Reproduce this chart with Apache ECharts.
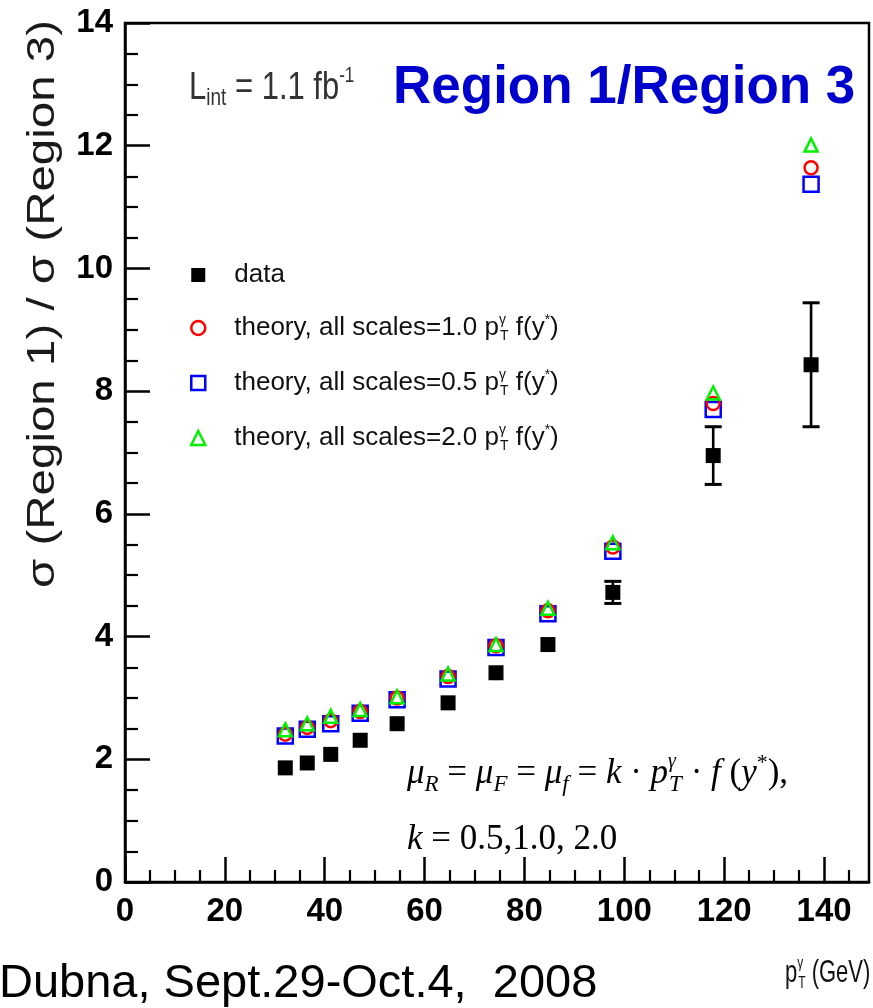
<!DOCTYPE html>
<html>
<head>
<meta charset="utf-8">
<script src="https://cdn.jsdelivr.net/npm/echarts@6/dist/echarts.min.js"></script>
<style>
html,body{margin:0;padding:0;background:#fff;}
#c{width:873px;height:1008px;}
</style>
</head>
<body>
<div id="c"></div>
<script>
// ---- data ----
const ptBins     = [32.1, 36.5, 41.2, 47.1, 54.5, 64.7, 74.3, 84.7, 97.7, 117.8, 137.4];
const dataRatio  = [1.86, 1.94, 2.08, 2.31, 2.58, 2.92, 3.41, 3.87, 4.72, 6.95, 8.43];
const dataErr    = [0.05, 0.05, 0.06, 0.06, 0.07, 0.08, 0.09, 0.10, 0.18, 0.47, 1.01];
const theoryK10  = [2.41, 2.52, 2.63, 2.78, 3.00, 3.35, 3.85, 4.42, 5.46, 7.80, 11.64];
const theoryK05  = [2.38, 2.49, 2.58, 2.75, 2.97, 3.31, 3.82, 4.37, 5.39, 7.70, 11.37];
const theoryK20  = [2.48, 2.58, 2.70, 2.81, 3.02, 3.39, 3.87, 4.46, 5.53, 7.97, 12.01];

const xMajorTicks = [0, 20, 40, 60, 80, 100, 120, 140];
const xMinorTicks = [5, 10, 15, 25, 30, 35, 45, 50, 55, 65, 70, 75, 85, 90, 95, 105, 110, 115, 125, 130, 135, 145];
const yMajorTicks = [0, 2, 4, 6, 8, 10, 12, 14];

// ---- font detection for the condensed tick labels ----
function hasFont(name) {
  const c = document.createElement('canvas').getContext('2d');
  const s = '1234567890 Region wmi';
  c.font = '40px monospace';
  const w0 = c.measureText(s).width;
  c.font = '40px "' + name + '", monospace';
  const w1 = c.measureText(s).width;
  return Math.abs(w0 - w1) > 0.5;
}
const narrow = hasFont('Liberation Sans Narrow');
const tickFamily = narrow ? '"Liberation Sans Narrow"' : '"Liberation Sans", Arial';
const tickSize = narrow ? 40 : 33;

const SANS = '"Liberation Sans", Arial, sans-serif';
const SERIF = '"Liberation Serif", "Times New Roman", serif';

const legendLabels = {
  data: '{sp|}{t|data}',
  k10: '{sp|}{t|theory, all scales=1.0 p}{gz|γ}{sb|T}{t| f(y}{st|*}{t|)}',
  k05: '{sp|}{t|theory, all scales=0.5 p}{gz|γ}{sb|T}{t| f(y}{st|*}{t|)}',
  k20: '{sp|}{t|theory, all scales=2.0 p}{gz|γ}{sb|T}{t| f(y}{st|*}{t|)}'
};

const chart = echarts.init(document.getElementById('c'), null, {renderer: 'canvas'});

const axisLineStyle = {color: '#000', width: 2.5};
const MARKER_HALF = 8;
const GREEN = '#00f000';

const option = {
  animation: false,
  backgroundColor: '#fff',
  textStyle: {fontFamily: SANS},
  grid: {left: 125, right: 4, top: 23, bottom: 126, show: true, borderColor: '#000', borderWidth: 2.5, backgroundColor: 'rgba(0,0,0,0)'},
  xAxis: [
    {
      type: 'value', min: 0, max: 149, position: 'bottom',
      axisLine: {show: true, onZero: false, lineStyle: axisLineStyle},
      axisTick: {show: true, inside: true, length: 25, customValues: xMajorTicks, lineStyle: {color: '#000', width: 2.5}},
      axisLabel: {customValues: xMajorTicks, margin: 13, fontSize: tickSize, fontWeight: 'bold', fontFamily: tickFamily, color: '#000'},
      splitLine: {show: false}
    },
    {
      type: 'value', min: 0, max: 149, position: 'bottom',
      axisLine: {show: false, onZero: false},
      axisTick: {show: true, inside: true, length: 12, customValues: xMinorTicks, lineStyle: {color: '#000', width: 2.2}},
      axisLabel: {show: false},
      splitLine: {show: false}
    }
  ],
  yAxis: {
    type: 'value', min: 0, max: 14, interval: 2,
    axisLine: {show: true, onZero: false, lineStyle: axisLineStyle},
    axisTick: {show: true, inside: true, length: 25, lineStyle: {color: '#000', width: 2.5}},
    minorTick: {show: true, splitNumber: 4, length: 13, lineStyle: {color: '#000', width: 2.2}},
    axisLabel: {margin: 12, fontSize: tickSize, fontWeight: 'bold', fontFamily: tickFamily, color: '#000',
      customValues: yMajorTicks},
    splitLine: {show: false},
    minorSplitLine: {show: false}
  },
  legend: {
    orient: 'vertical', left: 190, top: 262, padding: 0, itemGap: 25,
    itemWidth: 14, itemHeight: 14, selectedMode: false,
    data: [
      {name: 'data', icon: 'rect', itemStyle: {color: '#000', borderWidth: 0, opacity: 1}},
      {name: 'k10', icon: 'circle', itemStyle: {color: 'rgba(0,0,0,0)', borderColor: '#ff0000', borderWidth: 2.5, opacity: 1}},
      {name: 'k05', icon: 'rect', itemStyle: {color: 'rgba(0,0,0,0)', borderColor: '#0000ff', borderWidth: 2.5, opacity: 1}},
      {name: 'k20', icon: 'triangle', itemStyle: {color: 'rgba(0,0,0,0)', borderColor: GREEN, borderWidth: 2.5, opacity: 1}}
    ],
    formatter: function (name) { return legendLabels[name]; },
    textStyle: {
      color: '#111', fontFamily: SANS, fontSize: 26,
      rich: {
        sp: {width: 24, fontSize: 26, lineHeight: 30},
        t: {fontSize: 26, fontFamily: SANS, color: '#111', lineHeight: 30},
        gz: {fontSize: 14, fontFamily: SANS, color: '#111', lineHeight: 14, verticalAlign: 'top', width: 1},
        sb: {fontSize: 14, fontFamily: SANS, color: '#111', lineHeight: 14, verticalAlign: 'bottom'},
        st: {fontSize: 14, fontFamily: SANS, color: '#111', lineHeight: 14, verticalAlign: 'top'}
      }
    }
  },
  graphic: [
    {type: 'text', x: 44, y: 304, rotation: Math.PI / 2, scaleX: 1.25, z: 10,
      style: {text: 'σ (Region 1) / σ (Region 3)', fontSize: 38, fontFamily: SANS, fill: '#1a1a1a',
        align: 'center', verticalAlign: 'middle', textAlign: 'center', textVerticalAlign: 'middle'}},
    {type: 'text', x: 393, y: 88, z: 10,
      style: {text: 'Region 1/Region 3', fontSize: 53, fontWeight: 'bold', fontFamily: SANS, fill: '#0000cc',
        align: 'left', verticalAlign: 'middle', textAlign: 'left', textVerticalAlign: 'middle'}},
    {type: 'text', x: 189, y: 88, scaleY: 1.25, z: 10,
      style: {text: '{a|L}{sb|int}{a| = 1.1 fb}{sp|-1}', fill: '#333', align: 'left', verticalAlign: 'middle',
        textAlign: 'left', textVerticalAlign: 'middle',
        rich: {
          a: {fontSize: 31, fontFamily: SANS, fill: '#333', lineHeight: 36},
          sb: {fontSize: 19, fontFamily: SANS, fill: '#333', lineHeight: 20, verticalAlign: 'bottom'},
          sp: {fontSize: 17, fontFamily: SANS, fill: '#333', lineHeight: 18, verticalAlign: 'top'}
        }}},
    {type: 'text', x: 407, y: 774, z: 10,
      style: {text: '{m|μ}{s|R}{r| = }{m|μ}{s|F}{r| = }{m|μ}{s|f}{r| = }{m|k}{r| · }{m|p}{gz|γ}{s|T}{r| · }{m|f}{r| (}{m|y}{st|*}{r|),}',
        align: 'left', verticalAlign: 'middle', textAlign: 'left', textVerticalAlign: 'middle',
        rich: {
          m: {fontSize: 35, fontFamily: SERIF, fontStyle: 'italic', fill: '#000', lineHeight: 44},
          r: {fontSize: 35, fontFamily: SERIF, fill: '#000', lineHeight: 44},
          s: {fontSize: 23, fontFamily: SERIF, fontStyle: 'italic', fill: '#000', lineHeight: 26, verticalAlign: 'bottom'},
          gz: {fontSize: 20, fontFamily: SERIF, fontStyle: 'italic', fill: '#000', lineHeight: 34, verticalAlign: 'top', width: 1},
          st: {fontSize: 22, fontFamily: SERIF, fill: '#000', lineHeight: 18, verticalAlign: 'top'}
        }}},
    {type: 'text', x: 407, y: 840, z: 10,
      style: {text: '{m|k}{r| = 0.5,1.0, 2.0}', align: 'left', verticalAlign: 'middle',
        textAlign: 'left', textVerticalAlign: 'middle',
        rich: {
          m: {fontSize: 35, fontFamily: SERIF, fontStyle: 'italic', fill: '#000', lineHeight: 44},
          r: {fontSize: 35, fontFamily: SERIF, fill: '#000', lineHeight: 44}
        }}},
    {type: 'text', x: 785, y: 973, scaleY: 1.45, z: 10,
      style: {text: '{a|p}{gz|γ}{sb|T}{a| (GeV)}', align: 'left', verticalAlign: 'middle',
        textAlign: 'left', textVerticalAlign: 'middle',
        rich: {
          a: {fontSize: 22, fontFamily: SANS, fill: '#111', lineHeight: 26},
          gz: {fontSize: 12, fontFamily: SANS, fill: '#111', lineHeight: 12, verticalAlign: 'top', width: 1},
          sb: {fontSize: 12, fontFamily: SANS, fill: '#111', lineHeight: 12, verticalAlign: 'bottom'}
        }}},
    {type: 'text', x: -1, y: 984, z: 10,
      style: {text: 'Dubna, Sept.29-Oct.4,  2008', fontSize: 47, fontFamily: SANS, fill: '#000',
        align: 'left', verticalAlign: 'middle', textAlign: 'left', textVerticalAlign: 'middle'}}
  ],
  series: [
    {
      type: 'custom', name: 'dataErr', xAxisIndex: 0, yAxisIndex: 0, z: 4, silent: true,
      data: ptBins.map((x, i) => [x, dataRatio[i] - dataErr[i], dataRatio[i] + dataErr[i]]),
      encode: {x: 0, y: [1, 2]},
      renderItem: function (params, api) {
        const x = api.value(0);
        const lo = api.coord([x, api.value(1)]);
        const hi = api.coord([x, api.value(2)]);
        const hw = 8.5;
        // like ROOT: an error bar hidden inside the marker is not drawn
        if ((lo[1] - hi[1]) / 2 <= MARKER_HALF) {
          return {type: 'group', children: []};
        }
        return {
          type: 'group',
          children: [
            {type: 'line', shape: {x1: lo[0], y1: lo[1], x2: hi[0], y2: hi[1]}, style: {stroke: '#000', lineWidth: 2.6}},
            {type: 'line', shape: {x1: lo[0] - hw, y1: lo[1], x2: lo[0] + hw, y2: lo[1]}, style: {stroke: '#000', lineWidth: 3}},
            {type: 'line', shape: {x1: hi[0] - hw, y1: hi[1], x2: hi[0] + hw, y2: hi[1]}, style: {stroke: '#000', lineWidth: 3}}
          ]
        };
      }
    },
    {
      type: 'scatter', name: 'k05', xAxisIndex: 0, z: 3, silent: true,
      data: ptBins.map((x, i) => [x, theoryK05[i]]),
      symbol: 'rect', symbolSize: 15,
      itemStyle: {color: 'rgba(0,0,0,0)', borderColor: '#0000ff', borderWidth: 2.5, opacity: 1}
    },
    {
      type: 'scatter', name: 'k10', xAxisIndex: 0, z: 4, silent: true,
      data: ptBins.map((x, i) => [x, theoryK10[i]]),
      symbol: 'circle', symbolSize: 13,
      itemStyle: {color: 'rgba(0,0,0,0)', borderColor: '#ff0000', borderWidth: 2.5, opacity: 1}
    },
    {
      type: 'scatter', name: 'k20', xAxisIndex: 0, z: 5, silent: true,
      data: ptBins.map((x, i) => [x, theoryK20[i]]),
      symbol: 'triangle', symbolSize: 13,
      itemStyle: {color: 'rgba(0,0,0,0)', borderColor: GREEN, borderWidth: 2.5, opacity: 1}
    },
    {
      type: 'scatter', name: 'data', xAxisIndex: 0, z: 6, silent: true,
      data: ptBins.map((x, i) => [x, dataRatio[i]]),
      symbol: 'rect', symbolSize: 15,
      itemStyle: {color: '#000', opacity: 1}
    }
  ]
};

chart.setOption(option);
</script>
</body>
</html>
